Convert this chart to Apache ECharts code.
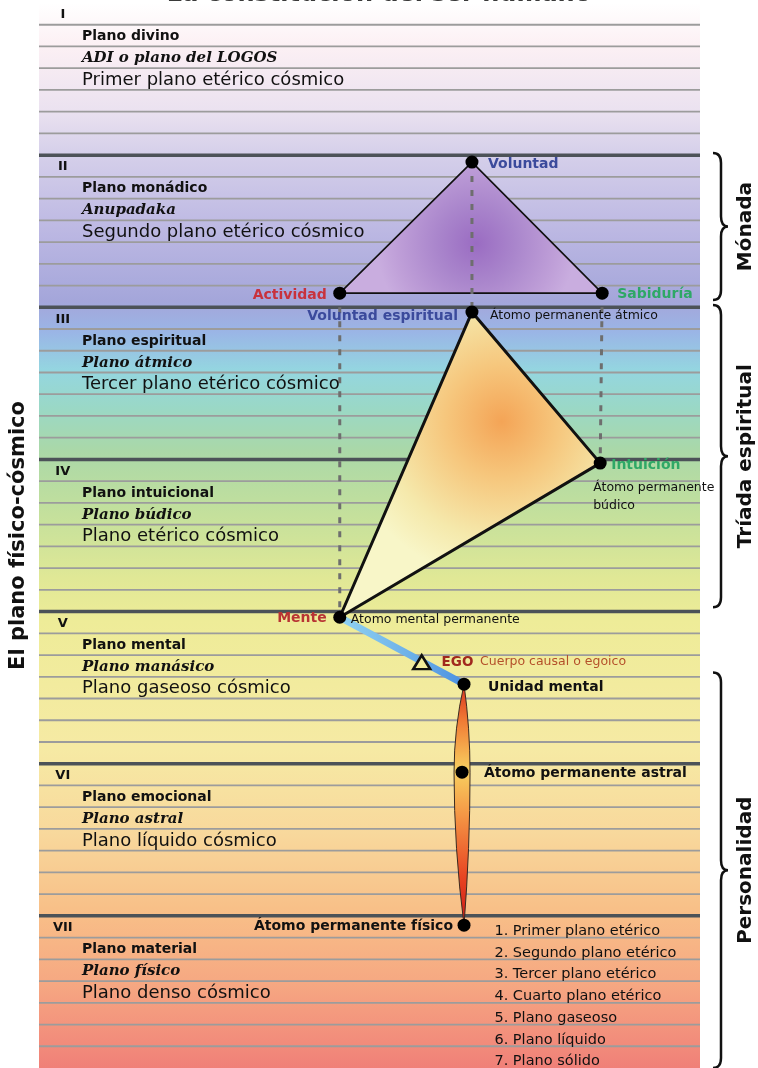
<!DOCTYPE html>
<html>
<head>
<meta charset="utf-8">
<title>La constitución del ser humano</title>
<script src="https://cdn.jsdelivr.net/npm/echarts@6/dist/echarts.min.js"></script>
<style>
  html, body { margin: 0; padding: 0; background: #fff; }
  #chart { width: 758px; height: 1068px; }
</style>
</head>
<body>
<div id="chart"></div>
<script>
// 7 planos, cada uno con 7 subplanos
const planeNumerals = ['I', 'II', 'III', 'IV', 'V', 'VI', 'VII']
const planeNames = ['Plano divino', 'Plano monádico', 'Plano espiritual', 'Plano intuicional', 'Plano mental', 'Plano emocional', 'Plano material']
const planeAltNames = ['ADI o plano del LOGOS', 'Anupadaka', 'Plano átmico', 'Plano búdico', 'Plano manásico', 'Plano astral', 'Plano físico']
const cosmicNames = ['Primer plano etérico cósmico', 'Segundo plano etérico cósmico', 'Tercer plano etérico cósmico', 'Plano etérico cósmico', 'Plano gaseoso cósmico', 'Plano líquido cósmico', 'Plano denso cósmico']
const subplanes = 7
const physicalSubplanes = ['1. Primer plano etérico', '2. Segundo plano etérico', '3. Tercer plano etérico', '4. Cuarto plano etérico', '5. Plano gaseoso', '6. Plano líquido', '7. Plano sólido']

// nodos: x de 0 a 100 a lo ancho, y en subplanos contados desde arriba
const nodeNames = ['Voluntad', 'Actividad', 'Sabiduría', 'Voluntad espiritual', 'Intuición', 'Mente', 'Unidad mental', 'Átomo permanente astral', 'Átomo permanente físico']
const nodeX = [65.5, 45.5, 85.2, 65.5, 84.9, 45.5, 64.3, 64.0, 64.3]
const nodeY = [7.32, 13.35, 13.35, 14.22, 21.17, 28.26, 31.34, 35.39, 42.43]
const monadTriangle = [0, 1, 2]
const triadTriangle = [3, 4, 5]
const dashedLinks = [[0, 3], [1, 5], [2, 4]]
const antahkarana = [5, 6]
const egoPoint = [57.9, 30.33]

// llaves de la derecha
const groupNames = ['Mónada', 'Tríada espiritual', 'Personalidad']
const groupFrom = [6.9, 13.9, 30.8]
const groupTo = [13.67, 27.8, 49]

const sans = '"DejaVu Sans", Verdana, sans-serif'
const serif = '"DejaVu Serif", Georgia, serif'
const blue = '#3b4a9c'
const red = '#c8323c'
const green = '#2ea866'

// textos de la izquierda de cada plano
const planeTexts = []
planeNumerals.forEach((n, i) => {
  const y0 = i * subplanes
  planeTexts.push({ x: 3.6, y: y0 + 0.55, text: n, font: 'bold 13px ' + sans, align: 'center' })
  planeTexts.push({ x: 6.5, y: y0 + 1.55, text: planeNames[i], font: 'bold 14px ' + sans })
  planeTexts.push({ x: 6.5, y: y0 + 2.55, text: planeAltNames[i], font: 'italic bold 15px ' + serif })
  planeTexts.push({ x: 6.5, y: y0 + 3.55, text: cosmicNames[i], font: '18px ' + sans })
})
physicalSubplanes.forEach((t, k) => {
  planeTexts.push({ x: 68.9, y: 6 * subplanes + k + 0.7, text: t, font: '14.5px ' + sans })
})

// etiquetas pegadas a los nodos (desplazamiento en px)
const nodeLabels = [
  { node: 0, text: 'Voluntad', dx: 16, dy: 2, color: blue, font: 'bold 14px ' + sans },
  { node: 1, text: 'Actividad', dx: -13, dy: 2, align: 'right', color: red, font: 'bold 14px ' + sans },
  { node: 2, text: 'Sabiduría', dx: 15, dy: 1, color: green, font: 'bold 14px ' + sans },
  { node: 3, text: 'Voluntad espiritual', dx: -14, dy: 4, align: 'right', color: blue, font: 'bold 14px ' + sans },
  { node: 3, text: 'Átomo permanente átmico', dx: 18, dy: 4, font: '12.5px ' + sans },
  { node: 4, text: 'Intuición', dx: 11, dy: 2, color: green, font: 'bold 14px ' + sans },
  { node: 4, text: 'Átomo permanente\nbúdico', dx: -7, dy: 34, font: '12.5px ' + sans },
  { node: 5, text: 'Mente', dx: -13, dy: 1, align: 'right', color: '#b83434', font: 'bold 14px ' + sans },
  { node: 5, text: 'Atomo mental permanente', dx: 11, dy: 3, font: '12.5px ' + sans },
  { node: 6, text: 'Unidad mental', dx: 24, dy: 3, font: 'bold 14px ' + sans },
  { node: 7, text: 'Átomo permanente astral', dx: 22, dy: 1, font: 'bold 14px ' + sans },
  { node: 8, text: 'Átomo permanente físico', dx: -11, dy: 1, align: 'right', font: 'bold 14px ' + sans }
]

const bgColor = new echarts.graphic.LinearGradient(0, 0, 0, 1, [
  { offset: 0, color: '#ffffff' },
  { offset: 0.04, color: '#fcf0f4' },
  { offset: 0.10, color: '#ebe2f0' },
  { offset: 0.14, color: '#d6d0ea' },
  { offset: 0.22, color: '#bab6e2' },
  { offset: 0.28, color: '#a4a6da' },
  { offset: 0.31, color: '#9ab6e6' },
  { offset: 0.345, color: '#94d6e0' },
  { offset: 0.38, color: '#9ad8c6' },
  { offset: 0.42, color: '#aad8a8' },
  { offset: 0.48, color: '#c4e09c' },
  { offset: 0.54, color: '#e0e896' },
  { offset: 0.58, color: '#eeec98' },
  { offset: 0.70, color: '#f6eaa4' },
  { offset: 0.78, color: '#f8d89c' },
  { offset: 0.85, color: '#f8c088' },
  { offset: 0.92, color: '#f6a882' },
  { offset: 1, color: '#f08078' }
])

const boundaries = []
for (let i = 1; i < planeNumerals.length * subplanes; i++) boundaries.push(i)

const chart = echarts.init(document.getElementById('chart'))

chart.setOption({
  animation: false,
  graphic: [{
    type: 'text',
    left: 'center',
    top: -17,
    style: { text: 'La constitución del ser humano', font: 'bold 24px ' + sans, fill: '#3a3a3a' }
  }],
  grid: {
    left: 37,
    right: 58,
    top: 3,
    bottom: 0,
    show: true,
    borderWidth: 0,
    backgroundColor: bgColor
  },
  xAxis: {
    type: 'value',
    min: 0,
    max: 100,
    show: false
  },
  yAxis: {
    type: 'value',
    min: 0,
    max: 49,
    interval: 1,
    inverse: true,
    name: 'El plano físico-cósmico',
    nameLocation: 'middle',
    nameRotate: 90,
    nameGap: 10,
    nameTextStyle: { fontSize: 21, fontWeight: 'bold', fontFamily: 'DejaVu Sans', color: '#111' },
    axisLine: { show: false },
    axisTick: { show: false },
    axisLabel: { show: false },
    splitLine: { show: false }
  },
  series: [
    {
      // lineas de subplanos y planos
      type: 'custom',
      z: 1,
      silent: true,
      data: boundaries.map(b => [0, b]),
      renderItem: (params, api) => {
        const b = boundaries[params.dataIndex]
        const p0 = api.coord([0, b])
        const p1 = api.coord([100, b])
        const major = b % subplanes === 0
        return {
          type: 'line',
          shape: { x1: p0[0], y1: p0[1], x2: p1[0], y2: p1[1] },
          style: { stroke: major ? '#4c5258' : '#9c9c9c', lineWidth: major ? 3.5 : 1.8 }
        }
      }
    },
    {
      // triangulos de la Mónada y de la Tríada
      type: 'custom',
      z: 3,
      silent: true,
      data: [[nodeX[0], nodeY[0]], [nodeX[3], nodeY[3]]],
      renderItem: (params, api) => {
        const idx = params.dataIndex === 0 ? monadTriangle : triadTriangle
        const pts = idx.map(i => api.coord([nodeX[i], nodeY[i]]))
        const fill = params.dataIndex === 0
          ? new echarts.graphic.RadialGradient(0.52, 0.62, 0.75, [
              { offset: 0, color: '#9a6cc2' },
              { offset: 0.4, color: '#aa86cc' },
              { offset: 0.8, color: '#bf9fd8' },
              { offset: 1, color: '#c9addf' }
            ])
          : new echarts.graphic.RadialGradient(0.62, 0.36, 0.6, [
              { offset: 0, color: '#f4a456' },
              { offset: 0.35, color: '#f6c67c' },
              { offset: 0.75, color: '#f5e9ac' },
              { offset: 1, color: '#f8f6c8' }
            ])
        return {
          type: 'polygon',
          shape: { points: pts },
          style: { fill: fill, stroke: '#111', lineWidth: params.dataIndex === 0 ? 1.6 : 3, lineJoin: 'round' }
        }
      }
    },
    ...dashedLinks.map(pair => ({
      type: 'line',
      z: 4,
      silent: true,
      symbol: 'none',
      data: pair.map(i => [nodeX[i], nodeY[i]]),
      lineStyle: { color: '#6e6e6e', width: 3, type: [6, 8] }
    })),
    {
      // antakarana Mente -> Unidad mental
      type: 'line',
      z: 4,
      silent: true,
      symbol: 'none',
      data: antahkarana.map(i => [nodeX[i], nodeY[i]]),
      lineStyle: {
        width: 7,
        color: new echarts.graphic.LinearGradient(0, 0, 1, 0, [
          { offset: 0, color: '#92d4f2' },
          { offset: 0.6, color: '#6aaee8' },
          { offset: 1, color: '#4a8ee0' }
        ])
      }
    },
    {
      // huso de la personalidad
      type: 'custom',
      z: 4,
      silent: true,
      data: [[nodeX[7], nodeY[7]]],
      renderItem: (params, api) => {
        const t = api.coord([nodeX[6], nodeY[6]])
        const m = api.coord([nodeX[7], nodeY[7]])
        const b = api.coord([nodeX[8], nodeY[8]])
        const w = 8
        const up = (m[1] - t[1]) * 0.5
        const dn = (b[1] - m[1]) * 0.5
        const d = `M${t[0]} ${t[1]} Q${m[0] + w} ${m[1] - up} ${m[0] + w} ${m[1]} Q${m[0] + w} ${m[1] + dn} ${b[0]} ${b[1]} ` +
          `Q${m[0] - w} ${m[1] + dn} ${m[0] - w} ${m[1]} Q${m[0] - w} ${m[1] - up} ${t[0]} ${t[1]} Z`
        return {
          type: 'path',
          shape: { pathData: d },
          style: {
            fill: new echarts.graphic.LinearGradient(0, 0, 0, 1, [
              { offset: 0, color: '#d83020' },
              { offset: 0.15, color: '#f07a34' },
              { offset: 0.36, color: '#f8d060' },
              { offset: 0.55, color: '#f49444' },
              { offset: 0.8, color: '#e84422' },
              { offset: 1, color: '#cc1616' }
            ]),
            stroke: '#3a2a20',
            lineWidth: 1
          }
        }
      }
    },
    {
      type: 'scatter',
      z: 6,
      silent: true,
      symbol: 'triangle',
      symbolSize: [17, 14],
      data: [egoPoint],
      itemStyle: { color: '#f2ec9a', borderColor: '#111', borderWidth: 2.5, opacity: 1 },
      label: {
        show: true,
        position: 'right',
        distance: 10,
        formatter: '{a|EGO}  {b|Cuerpo causal o egoico}',
        rich: {
          a: { fontFamily: 'DejaVu Sans', fontWeight: 'bold', fontSize: 13.5, color: '#a0281e' },
          b: { fontFamily: 'DejaVu Sans', fontSize: 12.5, color: '#b4502a' }
        }
      }
    },
    {
      type: 'scatter',
      z: 7,
      silent: true,
      symbolSize: 13,
      itemStyle: { color: '#000', opacity: 1 },
      data: nodeNames.map((n, i) => ({ name: n, value: [nodeX[i], nodeY[i]] }))
    },
    {
      // textos de los planos
      type: 'custom',
      z: 8,
      silent: true,
      data: planeTexts.map(t => [t.x, t.y]),
      renderItem: (params, api) => {
        const t = planeTexts[params.dataIndex]
        const p = api.coord([t.x, t.y])
        return {
          type: 'text',
          x: p[0],
          y: p[1],
          style: { text: t.text, font: t.font, fill: '#111', align: t.align || 'left', verticalAlign: 'middle' }
        }
      }
    },
    {
      // etiquetas de los nodos
      type: 'custom',
      z: 8,
      silent: true,
      data: nodeLabels.map(l => [nodeX[l.node], nodeY[l.node]]),
      renderItem: (params, api) => {
        const l = nodeLabels[params.dataIndex]
        const p = api.coord([nodeX[l.node], nodeY[l.node]])
        return {
          type: 'text',
          x: p[0] + l.dx,
          y: p[1] + l.dy,
          style: {
            text: l.text,
            font: l.font,
            fill: l.color || '#111',
            align: l.align || 'left',
            verticalAlign: 'middle',
            lineHeight: 18
          }
        }
      }
    },
    {
      // llaves Mónada / Tríada / Personalidad
      type: 'custom',
      z: 8,
      silent: true,
      clip: false,
      data: groupNames.map((g, i) => [100, groupFrom[i]]),
      renderItem: (params, api) => {
        const i = params.dataIndex
        const top = api.coord([100, groupFrom[i]])
        const bot = api.coord([100, groupTo[i]])
        const x0 = top[0] + 13
        const x1 = x0 + 8
        const x2 = x1 + 7
        const yt = top[1]
        const yb = bot[1]
        const ym = (yt + yb) / 2
        const r = 10
        const d = `M${x0} ${yt} Q${x1} ${yt} ${x1} ${yt + r} L${x1} ${ym - r} Q${x1} ${ym} ${x2} ${ym} ` +
          `Q${x1} ${ym} ${x1} ${ym + r} L${x1} ${yb - r} Q${x1} ${yb} ${x0} ${yb}`
        return {
          type: 'group',
          children: [
            { type: 'path', shape: { pathData: d }, style: { fill: 'none', stroke: '#111', lineWidth: 2.5 } },
            {
              type: 'text',
              x: top[0] + 46,
              y: ym,
              rotation: Math.PI / 2,
              style: { text: groupNames[i], font: 'bold 20px ' + sans, fill: '#111', align: 'center', verticalAlign: 'middle' }
            }
          ]
        }
      }
    }
  ]
})
</script>
</body>
</html>
